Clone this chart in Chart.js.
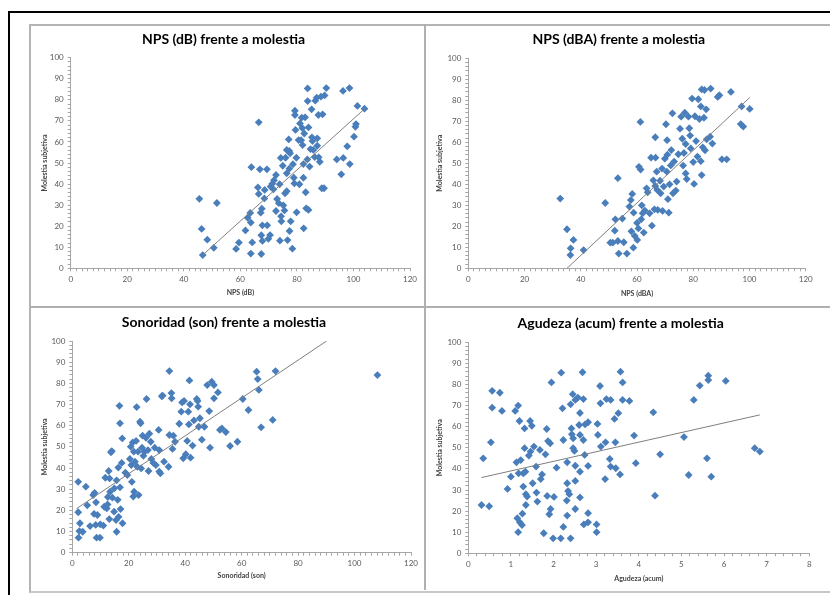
<!DOCTYPE html>
<html>
<head>
<meta charset="utf-8">
<script src="https://cdn.jsdelivr.net/npm/chart.js@4.4.1/dist/chart.umd.min.js"></script>
<style>
  body { margin: 0; background: #fff; width: 830px; height: 595px; overflow: hidden; position: relative; }
  .black-frame { position: absolute; left: 8px; top: 11px; width: 840px; height: 600px; border-left: 2px solid #000; border-top: 2px solid #000; }
  .grey-frame { position: absolute; left: 29px; top: 24px; width: 820px; height: 565px; border-left: 2px solid #b4b4b4; border-top: 2px solid #b4b4b4; border-bottom: 2px solid #c8c8c8; }
  .vline { position: absolute; left: 424px; top: 24px; width: 2px; height: 566px; background: #b0b0b0; }
  .hline { position: absolute; left: 29px; top: 306px; width: 801px; height: 2px; background: #b0b0b0; }
  .cell { position: absolute; }
</style>
</head>
<body>
<div class="black-frame"></div>
<div class="grey-frame"></div>
<div class="vline"></div>
<div class="hline"></div>
<canvas id="chart-nps-db" class="cell" style="left:29px;top:24px" width="395" height="283"></canvas>
<canvas id="chart-nps-dba" class="cell" style="left:424px;top:24px" width="406" height="283"></canvas>
<canvas id="chart-sonoridad" class="cell" style="left:29px;top:307px" width="395" height="283"></canvas>
<canvas id="chart-agudeza" class="cell" style="left:424px;top:307px" width="406" height="283"></canvas>
<script>
//
// Data
//

// NPS (dB) vs molestia subjetiva, [x, y]
var npsDb = [
  [45.5,33],[46.3,18.7],[46.7,6.3],[48.3,13.6],[51.7,31],[50.6,9.7],[58.5,9.2],[59.5,12.2],[61.8,18],[62.6,24],
  [63.7,21.7],[63.5,26.3],[63.9,48],[64.2,12.3],[63.7,7],[66.5,69.3],[66.2,38.4],[66.5,35.3],[66.9,47],[67.2,26.4],
  [67.6,28.3],[67.8,20.4],[67.4,15.7],[67.8,13],[67.4,6.8],[68.5,33.2],[68.6,37.2],[69.4,47],[69.5,20.4],[69.9,14],
  [70.5,15.8],[70.7,38.8],[71.3,40.2],[71.7,37.5],[71.9,41.8],[72.6,44.3],[73,32.9],[72.6,27.2],[73.6,30.9],[73.9,39.9],
  [74,13.1],[74.3,52.4],[74.4,24.7],[74.5,22.3],[75,48.7],[75.2,29.9],[75.6,27.5],[75.8,35.6],[76,52.5],[76.4,56.2],
  [76.4,45.1],[76.4,36.6],[76.7,13.4],[77.1,61.2],[77.3,55.7],[77.6,54.6],[77.3,47.3],[77.4,17.7],[77.8,22.3],[78.4,9.3],
  [78.6,49.4],[78.9,43],[79.1,40.3],[79.3,74.8],[79.3,72.8],[79.5,65.7],[79.8,52.5],[79.9,26.6],[80.6,60.9],[80.9,39.9],
  [81.1,68.8],[81.5,60.8],[81.7,71.5],[81.9,66.6],[82,58.5],[82.3,49.5],[82.3,43],[82.4,19],[82.6,64],[82.9,71.7],
  [83.1,36.1],[83.3,28.5],[83.7,51.7],[83.8,85.4],[83.8,79.4],[84.1,66.9],[84.1,27.7],[84.5,48.3],[84.8,56.6],[85.2,75.5],
  [85.3,62.2],[85.5,60.4],[85.8,56.2],[86.3,52.8],[86.5,79.6],[87,81],[87.2,61.7],[87.2,58.2],[87.6,72.8],[87.7,52.7],
  [88.1,50.6],[88.5,81.5],[88.8,38],[89.1,73.1],[89.6,38],[89.8,82.1],[90.4,85.6],[94.1,51.7],[95.7,44.6],[96.4,52.4],
  [96.3,84.2],[97.8,57.9],[98.6,85.6],[98.7,49.5],[100.2,62.5],[100.7,67.2],[100.9,68.5],[101.4,77.1],[103.9,75.8]
];
var npsDbTrend = [[46.7,6.3],[104,75.8]];

// NPS (dBA) vs molestia subjetiva
var npsDba = [
  [32.7,33.2],[35.1,18.6],[36.3,6.3],[36.4,9.5],[37.4,13.5],[41,8.7],[48.7,31.1],[52.3,23.3],[53.2,42.9],[52.1,17.9],
  [50.5,12.2],[51.4,12.2],[53.2,13],[53.5,7],[54.8,23.7],[55.3,12.4],[56.4,7],[57.3,29.4],[57.8,32.5],[58,17.6],
  [58.3,35.4],[58.8,26.5],[59.2,15.4],[58.7,9.8],[60,21.6],[60.1,13.5],[60.5,19],[60.7,48.3],[61.3,47],[61.2,69.7],
  [61.5,23.3],[61.7,30],[62.4,17],[62,26.2],[62.8,27.5],[63.4,38.1],[63.8,36.2],[64.5,26.2],[65,52.7],[65.3,20.3],
  [65.8,41.9],[66.2,28.1],[66.5,62.4],[66.6,52.7],[66.5,39.2],[67,46],[67.2,37.3],[67.4,27.8],[68.2,41.7],[68.4,35.7],
  [68.9,47.5],[69.1,27.3],[69.5,38.9],[69.9,52.2],[70.3,68.6],[70.6,46],[70.7,61],[70.8,54.1],[71,32.9],[71.3,26.5],
  [71.6,40],[72,49],[72.2,56.3],[72.6,73.8],[72.8,35.7],[73.2,50.8],[73.8,37],[74.1,41.3],[74.7,54.3],[75.3,66.5],
  [75.7,72.2],[76.1,61.7],[76.4,48.9],[76.7,54.9],[77,74.1],[77.3,45.2],[77.3,59.2],[77.7,42.5],[78.3,72.2],[78.6,66.7],
  [78.9,63.2],[79.1,57.1],[79.6,80.8],[80,50.6],[80.3,40.2],[80.6,72.4],[81,60.6],[81.5,53.2],[81.8,80.5],[82.2,71.1],
  [82.7,77.1],[82.7,51],[83,85.2],[83,44.4],[83.4,57.6],[83.8,71.7],[84,84.9],[84.2,56.2],[84.6,75.7],[84.8,61.4],
  [86.2,85.6],[86,62.7],[86.8,59.4],[88.7,81.6],[89.3,82.4],[90.2,51.9],[91.9,51.9],[93.4,84],[97.2,77.1],[96.9,68.7],
  [97.8,67.5],[100.1,75.9]
];
var npsDbaTrend = [[35.1,0],[100.1,81.3]];

// Sonoridad (son) vs molestia subjetiva
var sonoridad = [
  [2.1,33.5],[2.1,19.1],[2.2,7.1],[2.7,13.9],[2.5,10.2],[3.7,9.9],[4.8,31.2],[5.3,22.4],[6.3,12.6],[7.4,27.2],
  [7.7,18.3],[7.9,28.3],[8.3,13.1],[8.4,23.8],[8.6,7.1],[8.9,17.8],[9.8,7.1],[9.9,13.4],[11,12.8],[11.3,21.7],
  [11.7,35.4],[12.2,20.9],[12.5,22.8],[12.6,26.3],[12.9,38.6],[13.1,15.9],[13.2,35.1],[13.4,28.8],[13.7,47.4],[14,48],
  [14.2,26],[14.8,19.4],[14.9,30.4],[15.5,15.4],[15.7,9.9],[15.7,34.2],[16.1,25],[16.3,40.2],[16.4,16.9],[16.7,69.4],
  [16.9,61.1],[16.9,30.9],[17.1,20.6],[17.5,42.4],[17.7,54],[17.8,13.9],[18.8,37.8],[19.5,36.7],[20.4,44.3],[20.7,50.1],
  [20.9,41.4],[21.1,33.5],[21.4,52.1],[21.6,26.5],[21.8,47.7],[21.9,28.8],[22.2,43],[22.6,52.8],[22.8,68.8],[23,40.6],
  [23.3,47.7],[23.5,27.2],[24,61.9],[24.2,61.1],[24.4,39.8],[24.7,49.6],[24.9,55.3],[25.2,45.8],[25.6,47.7],[26.1,54.3],
  [26.3,72.6],[26.8,48.5],[27,38.6],[27.3,56.2],[27.8,52.4],[28,44.3],[28.7,42.4],[29.2,49.6],[29.6,41.4],[30.6,58],
  [30.8,48.5],[30.8,38.3],[31.2,37.5],[31.7,73.9],[32,74.2],[32.5,43],[34.1,40.6],[34.4,85.8],[34.4,55.6],[35.1,75.4],
  [35.2,72.9],[35.5,49],[35.8,55.3],[36.4,52.4],[37.9,60.9],[38.6,66.6],[38.9,71],[39.6,71.7],[39.3,44.6],[40.2,46.5],
  [40.7,52.8],[41.1,66.6],[41.3,60.6],[41.5,81.4],[41.7,70.1],[41.9,44.9],[42.6,50.6],[43.1,62.5],[44.1,72.6],[44.4,71.7],
  [44.6,69],[44.8,59.5],[45.2,63.5],[45.9,53.4],[46.8,59.5],[47.8,79.2],[48.5,66.9],[48.8,49.6],[49.4,80.8],[50.2,79.2],
  [50.2,72.9],[51.6,75.7],[52.3,58],[53,58.7],[54.4,57],[55.9,50.4],[58.5,52.4],[60.4,72.6],[62.4,67.4],[65.3,85.5],
  [65.7,82],[66.1,76.9],[66.9,59.2],[71,62.7],[72,85.8],[108.1,83.9]
];
var sonoridadTrend = [[1.5,20.8],[90.1,100]];

// Agudeza (acum) vs molestia subjetiva
var agudeza = [
  [0.31,22.9],[0.35,45],[0.49,22.3],[0.53,52.6],[0.56,69],[0.56,77],[0.74,76.1],[0.79,67.5],[0.92,30.5],[1.0,36.3],
  [1.1,67.5],[1.13,43.1],[1.15,16.6],[1.17,70],[1.17,10],[1.18,37.9],[1.2,62.7],[1.21,14.7],[1.23,44.2],[1.26,13.4],
  [1.27,18.8],[1.29,31.6],[1.29,37.9],[1.32,59.2],[1.32,49.8],[1.34,38.7],[1.35,28],[1.35,22.9],[1.38,26.9],[1.42,46.3],
  [1.45,62.7],[1.46,48.2],[1.49,60.4],[1.51,33.2],[1.54,50.6],[1.59,41.1],[1.6,28.8],[1.62,24.5],[1.68,49],[1.7,35.2],
  [1.73,37.4],[1.77,9.5],[1.81,46.9],[1.84,58.9],[1.85,27.2],[1.87,53.2],[1.9,18.5],[1.92,52.1],[1.93,21],[1.95,81],
  [1.99,7.1],[2.01,26.7],[2.07,40.6],[2.17,7.1],[2.18,85.6],[2.21,68.7],[2.23,53.7],[2.23,12.5],[2.31,25],[2.32,33.2],
  [2.32,43.1],[2.32,17.9],[2.34,29.5],[2.37,28],[2.4,70.6],[2.4,7.1],[2.42,59.2],[2.43,56.4],[2.45,75.4],[2.46,54.5],
  [2.46,49.8],[2.49,48.5],[2.51,72.7],[2.51,41.5],[2.51,34.3],[2.51,21],[2.57,73.8],[2.6,60.8],[2.62,66.5],[2.62,56.1],
  [2.62,38.7],[2.62,26.5],[2.68,85.8],[2.7,73.1],[2.7,53.7],[2.71,13.7],[2.73,46.6],[2.74,61.1],[2.81,62.1],[2.81,41.4],
  [2.81,19],[2.81,14.7],[3.03,61.3],[3.04,56.1],[3.01,13.7],[3.01,10],[3.09,79.3],[3.1,71.1],[3.11,50.6],[3.21,35.2],
  [3.22,52.6],[3.24,73.1],[3.32,44.7],[3.34,72.7],[3.34,41.1],[3.43,63.7],[3.45,52.6],[3.46,40.3],[3.52,66.4],[3.56,37.4],
  [3.57,86.1],[3.62,81],[3.62,72.7],[3.78,72.2],[3.89,55.8],[3.93,42.7],[4.34,66.8],[4.38,27.3],[4.5,46.9],[5.06,55.1],
  [5.17,37.1],[5.29,72.7],[5.43,79.5],[5.6,45],[5.63,84.2],[5.63,82.1],[5.7,36.3],[6.04,81.7],[6.72,49.8],[6.84,48.2]
];
var agudezaTrend = [[0.31,35.9],[6.84,65.6]];

//
// Variables
//

var blue = '#4a7ebb';
var fontFamily = "Lato, 'Liberation Sans', sans-serif";

var panels = [
  { id: 'chart-nps-db', title: 'NPS (dB) frente a molestia', xTitle: 'NPS (dB)', points: npsDb, trend: npsDbTrend,
    xMax: 120, xStep: 2, xMajor: 20, yW: 33.7, pr: 14, pb: 8.7, tTop: 6.6, tBot: 10.3, xPad: 1.4 },
  { id: 'chart-nps-dba', title: 'NPS (dBA) frente a molestia', xTitle: 'NPS (dBA)', points: npsDba, trend: npsDbaTrend,
    xMax: 120, xStep: 2, xMajor: 20, yW: 36.3, pr: 24.3, pb: 8.7, tTop: 6.9, tBot: 10.6, xPad: 0.8 },
  { id: 'chart-sonoridad', title: 'Sonoridad (son) frente a molestia', xTitle: 'Sonoridad (son)', points: sonoridad, trend: sonoridadTrend,
    xMax: 120, xStep: 2, xMajor: 20, yW: 35.3, pr: 13, pb: 7.3, tTop: 6.9, tBot: 10.3, xPad: 2.8 },
  { id: 'chart-agudeza', title: 'Agudeza (acum) frente a molestia', xTitle: 'Agudeza (acum)', points: agudeza, trend: agudezaTrend,
    xMax: 8, xStep: 0.2, xMajor: 1, yW: 36.3, pr: 20.7, pb: 6.7, tTop: 7.9, tBot: 10.6, xPad: 0.8 }
];

//
// Methods
//

function toXY(list) {
  return list.map(function (p) { return { x: p[0], y: p[1] }; });
}

function majorLabel(major) {
  return function (value) {
    var r = value / major;
    return Math.abs(r - Math.round(r)) < 1e-6 ? Math.round(value * 10) / 10 : '';
  };
}

// Init chart
function initChart(p) {
  var axisGrid = { drawOnChartArea: false, drawTicks: true, tickLength: 3, color: '#a6a6a6' };
  var axisBorder = { display: true, color: '#a6a6a6', width: 1 };

  return new Chart(document.getElementById(p.id), {
    type: 'scatter',
    data: {
      datasets: [
        {
          label: 'Tendencia',
          type: 'line',
          data: toXY(p.trend),
          borderColor: '#7f7f7f',
          borderWidth: 1,
          pointRadius: 0,
          fill: false
        },
        {
          label: 'Molestia subjetiva',
          data: toXY(p.points),
          pointStyle: 'rectRot',
          pointRadius: 3.9,
          backgroundColor: blue,
          borderColor: blue,
          borderWidth: 0
        }
      ]
    },
    options: {
      responsive: false,
      animation: false,
      layout: { padding: { left: 8, right: p.pr, top: 0, bottom: p.pb } },
      plugins: {
        legend: { display: false },
        tooltip: { enabled: false },
        title: {
          display: true,
          text: p.title,
          color: '#000',
          font: { family: fontFamily, size: 14, weight: 'bold', lineHeight: 1.2 },
          padding: { top: p.tTop, bottom: p.tBot }
        }
      },
      scales: {
        x: {
          type: 'linear',
          min: 0,
          max: p.xMax,
          grid: axisGrid,
          border: axisBorder,
          ticks: {
            stepSize: p.xStep,
            autoSkip: false,
            maxRotation: 0,
            padding: 3,
            color: '#595959',
            font: { family: fontFamily, size: 8 },
            callback: majorLabel(p.xMajor)
          },
          title: {
            display: true,
            text: p.xTitle,
            color: '#404040',
            font: { family: fontFamily, size: 7, weight: 'bold' },
            padding: { top: 0, bottom: p.xPad }
          },
          afterFit: function (scale) { scale.height = 30; }
        },
        y: {
          min: 0,
          max: 100,
          grid: axisGrid,
          border: axisBorder,
          ticks: {
            stepSize: 2,
            autoSkip: false,
            padding: 4,
            color: '#595959',
            font: { family: fontFamily, size: 8 },
            callback: majorLabel(10)
          },
          title: {
            display: true,
            text: 'Molestia subjetiva',
            color: '#404040',
            font: { family: fontFamily, size: 7, weight: 'bold' },
            padding: { top: 4, bottom: 0 }
          },
          afterFit: function (scale) { scale.width = p.yW; }
        }
      }
    }
  });
}

panels.forEach(initChart);
</script>
</body>
</html>
